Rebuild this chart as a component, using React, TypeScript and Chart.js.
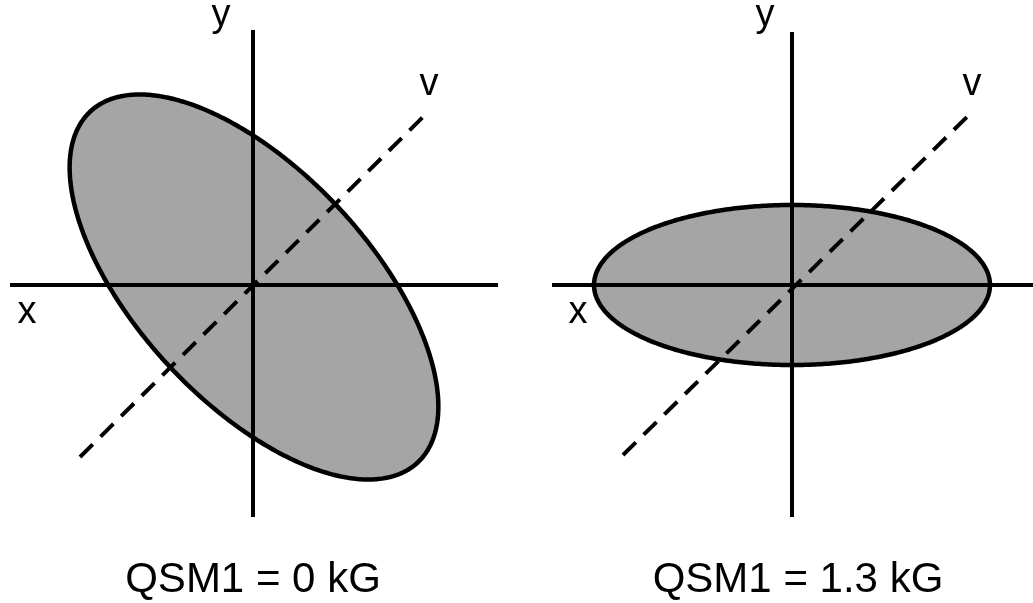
import { useEffect, useRef } from 'react';
import { Chart, registerables } from 'chart.js';

Chart.register(...registerables);

// ---- data (units: 1 unit ≈ 100 px, origin of each panel at its axes crossing) ----
const panelCaptions = ['QSM1 = 0 kG', 'QSM1 = 1.3 kG'];
const panelOffsets = [0, 5.39];
const axisXExtent = [[-2.43, 2.45], [-2.4, 2.42]];
const axisYExtent = [[-2.32, 2.55], [-2.32, 2.53]];
const ellipseCenter = [[0.01, -0.02], [0, 0]];
const ellipseSemiMajor = [2.4, 1.98];
const ellipseSemiMinor = [1.16, 0.8];
const ellipseTiltDeg = [-47, 0];
const vLineStart = [[-1.73, -1.72], [-1.69, -1.7]];
const vLineEnd = [[1.75, 1.73], [1.78, 1.71]];
const axisLabels = ['x', 'y', 'v'];
const axisLabelPos = [
  [[-2.26, -0.38], [-0.32, 2.59], [1.76, 1.9]],
  [[-2.14, -0.38], [-0.27, 2.59], [1.8, 1.9]],
];
const captionPos = [[0.0, -3.07], [0.06, -3.07]];

const X_MIN = -2.53;
const X_MAX = 7.8;
const Y_MIN = -3.18;
const Y_MAX = 2.85;

function ellipsePoints(cx: number, cy: number, a: number, b: number, deg: number) {
  const th = (deg * Math.PI) / 180;
  const pts: { x: number; y: number }[] = [];
  const n = 240;
  for (let i = 0; i <= n; i++) {
    const t = (i / n) * 2 * Math.PI;
    const ex = a * Math.cos(t);
    const ey = b * Math.sin(t);
    pts.push({
      x: cx + ex * Math.cos(th) - ey * Math.sin(th),
      y: cy + ex * Math.sin(th) + ey * Math.cos(th),
    });
  }
  return pts;
}

const FONT = '"Liberation Sans", Arial, Helvetica, sans-serif';

const textPlugin = {
  id: 'diagramText',
  afterDatasetsDraw(chart: any) {
    const { ctx, scales } = chart;
    const xs = scales.x;
    const ys = scales.y;
    ctx.save();
    ctx.fillStyle = '#000';
    ctx.textAlign = 'center';
    ctx.textBaseline = 'alphabetic';
    panelOffsets.forEach((off, p) => {
      ctx.font = `38px ${FONT}`;
      axisLabels.forEach((lab, i) => {
        const [lx, ly] = axisLabelPos[p][i];
        ctx.fillText(lab, xs.getPixelForValue(off + lx), ys.getPixelForValue(ly));
      });
      ctx.font = `42px ${FONT}`;
      const [cx, cy] = captionPos[p];
      ctx.fillText(panelCaptions[p], xs.getPixelForValue(off + cx), ys.getPixelForValue(cy));
    });
    ctx.restore();
  },
};

export default function App() {
  const ref = useRef<HTMLCanvasElement>(null);

  useEffect(() => {
    if (!ref.current) return;
    const datasets: any[] = [];
    panelOffsets.forEach((off, p) => {
      const [ecx, ecy] = ellipseCenter[p];
      datasets.push({
        label: `ellipse${p}`,
        data: ellipsePoints(off + ecx, ecy, ellipseSemiMajor[p], ellipseSemiMinor[p], ellipseTiltDeg[p]),
        showLine: true,
        fill: 'shape',
        backgroundColor: '#a5a5a5',
        borderColor: '#000',
        borderWidth: 4.5,
        borderJoinStyle: 'round',
        pointRadius: 0,
        tension: 0.001,
        order: 3,
      });
      datasets.push({
        label: `xaxis${p}`,
        data: [
          { x: off + axisXExtent[p][0], y: 0 },
          { x: off + axisXExtent[p][1], y: 0 },
        ],
        showLine: true,
        borderColor: '#000',
        borderWidth: 4,
        pointRadius: 0,
        order: 1,
      });
      datasets.push({
        label: `yaxis${p}`,
        data: [
          { x: off, y: axisYExtent[p][0] },
          { x: off, y: axisYExtent[p][1] },
        ],
        showLine: true,
        borderColor: '#000',
        borderWidth: 4,
        pointRadius: 0,
        order: 1,
      });
      datasets.push({
        label: `v${p}`,
        data: [
          { x: off + vLineStart[p][0], y: vLineStart[p][1] },
          { x: off + vLineEnd[p][0], y: vLineEnd[p][1] },
        ],
        showLine: true,
        borderColor: '#000',
        borderWidth: 4,
        borderDash: [18, 11],
        pointRadius: 0,
        order: 0,
      });
    });

    const chart = new Chart(ref.current, {
      type: 'scatter',
      data: { datasets },
      options: {
        responsive: false,
        animation: false,
        devicePixelRatio: 1,
        layout: { padding: 0 },
        plugins: { legend: { display: false }, tooltip: { enabled: false }, title: { display: false } },
        scales: {
          x: { type: 'linear', min: X_MIN, max: X_MAX, display: false },
          y: { type: 'linear', min: Y_MIN, max: Y_MAX, display: false },
        },
      },
      plugins: [textPlugin],
    });
    return () => chart.destroy();
  }, []);

  return (
    <div style={{ position: 'absolute', left: 0, top: 0, width: 1033, height: 603, background: '#fff' }}>
      <canvas ref={ref} width={1033} height={603} style={{ display: 'block' }} />
    </div>
  );
}
